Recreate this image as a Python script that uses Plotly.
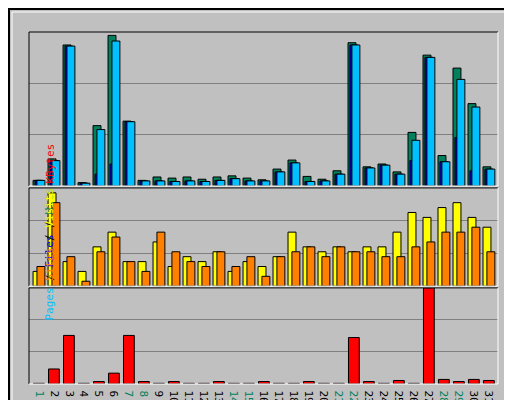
import plotly.graph_objects as go

# === Data ===
days = list(range(1, 32))
weekend = [1, 7, 8, 14, 15, 21, 22, 28, 29]

hits = [10, 48, 250, 6, 107, 267, 115, 10, 16, 14, 16, 12, 16, 18, 14, 11,
        30, 46, 17, 12, 27, 254, 34, 39, 25, 95, 232, 54, 209, 146, 34]
files = [10, 45, 248, 5, 100, 257, 114, 9, 9, 8, 9, 8, 10, 13, 9, 9,
         25, 41, 8, 9, 21, 250, 32, 37, 21, 81, 228, 43, 189, 140, 30]
pages = [10, 45, 248, 5, 21, 39, 114, 9, 9, 8, 9, 8, 10, 13, 9, 9,
         25, 41, 8, 9, 21, 250, 32, 37, 21, 45, 228, 43, 86, 27, 30]
visits = [3, 19, 5, 3, 8, 11, 5, 5, 9, 4, 6, 5, 7, 3, 5, 4,
          6, 11, 8, 7, 8, 7, 8, 8, 11, 15, 14, 16, 17, 14, 12]
sites = [4, 17, 6, 1, 7, 10, 5, 3, 11, 7, 5, 4, 7, 4, 6, 2,
         6, 7, 8, 6, 8, 7, 7, 6, 6, 8, 9, 11, 11, 12, 7]
kbytes = [100, 2273, 7348, 100, 370, 1640, 7348, 370, 100, 370, 100, 100, 370, 100, 100, 370,
          100, 100, 370, 100, 100, 7030, 370, 100, 530, 100, 14537, 690, 370, 690, 530]

BG = "#C0C0C0"
GRID = "#808080"
FONT = "DejaVu Sans Mono"

fig = go.Figure()


def bars(y, color, offset, width, ax):
    fig.add_trace(go.Bar(x=days, y=y, offset=offset, width=width, marker_color=color,
                         marker_line=dict(color="black", width=1),
                         xaxis="x" + ax, yaxis="y" + ax, showlegend=False, hoverinfo="skip"))


bars(hits, "#00805C", -0.53, 0.53, "")
bars(pages, "#0000FF", -0.4, 0.53, "")
bars(files, "#00C0FF", -0.27, 0.53, "")
bars(visits, "#FFFF00", -0.53, 0.53, "2")
bars(sites, "#FF8000", -0.27, 0.53, "2")
bars(kbytes, "#FF0000", -0.5, 0.72, "3")

xr = [0.2, 31.47]
ticktext = ["<span style='color:#00805C'>%d</span>" % d if d in weekend else str(d) for d in days]

common_x = dict(range=xr, domain=[0, 1], showgrid=False, zeroline=False, automargin=False)
common_y = dict(showgrid=True, gridcolor=GRID, gridwidth=1, zeroline=False, showticklabels=False,
                ticks="", automargin=False)

doms = [[0.5625, 1.0], [0.278, 0.557], [0.0, 0.273]]

fig.update_layout(
    width=512, height=400, autosize=False,
    margin=dict(l=21, r=22, t=24, b=24),
    paper_bgcolor=BG, plot_bgcolor=BG,
    barmode="overlay",
    font=dict(family=FONT, size=11, color="black"),
    xaxis=dict(**common_x, anchor="y", showticklabels=False),
    xaxis2=dict(**common_x, anchor="y2", showticklabels=False),
    xaxis3=dict(**common_x, anchor="y3", tickvals=days, ticktext=ticktext, ticks="",
                tickfont=dict(size=11, family=FONT)),
    yaxis=dict(**common_y, domain=doms[0], range=[0, 273], dtick=91, anchor="x"),
    yaxis2=dict(**common_y, domain=doms[1], range=[0, 20], dtick=20 / 3, anchor="x2"),
    yaxis3=dict(**common_y, domain=doms[2], range=[0, 14537], dtick=14537 / 3, anchor="x3"),
)

# panel bevels: black top/left, white bottom/right
shapes = []
for y0, y1 in doms:
    shapes += [
        dict(type="line", xref="paper", yref="paper", x0=0, x1=1, y0=y1, y1=y1,
             line=dict(color="black", width=1)),
        dict(type="line", xref="paper", yref="paper", x0=0, x1=0, y0=y0, y1=y1,
             line=dict(color="black", width=1)),
        dict(type="line", xref="paper", yref="paper", x0=0, x1=1, y0=y0, y1=y0,
             line=dict(color="white", width=1)),
        dict(type="line", xref="paper", yref="paper", x0=1, x1=1, y0=y0, y1=y1,
             line=dict(color="white", width=1)),
    ]
# outer frame (pixel -> paper conversion for the 469x352 plot area)
px = lambda v: (v - 21) / 469
py = lambda v: (376 - v) / 352
shapes += [
    dict(type="rect", xref="paper", yref="paper", x0=px(1), x1=px(511), y0=py(399), y1=py(1),
         line=dict(color="black", width=2)),
    dict(type="rect", xref="paper", yref="paper", x0=px(4), x1=px(508), y0=py(396), y1=py(4),
         line=dict(color="white", width=1)),
]
fig.update_layout(shapes=shapes)

ann = [
    dict(text="<b>Daily usage for July 2007</b>", x=px(18), y=py(7), xanchor="left", yanchor="top",
         font=dict(color="#0000FF", size=12, family=FONT), showarrow=False),
    dict(text="273", x=px(20), y=py(26), xanchor="right", yanchor="top", textangle=-90, showarrow=False),
    dict(text="20", x=px(20), y=py(182), xanchor="right", yanchor="top", textangle=-90, showarrow=False),
    dict(text="14537", x=px(20), y=py(282), xanchor="right", yanchor="top", textangle=-90, showarrow=False),
    dict(text="<span style='color:#00C0FF'>Pages</span> / <span style='color:#0000FF'>Files</span> / "
              "<span style='color:#00805C'>Hits</span>",
         x=px(492), y=py(26), xanchor="left", yanchor="top", textangle=-90, showarrow=False),
    dict(text="<span style='color:#FF8000'>Sites</span> / <span style='color:#FFFF00'>Visits</span>",
         x=px(492), y=py(182), xanchor="left", yanchor="top", textangle=-90, showarrow=False),
    dict(text="<span style='color:#FF0000'>KBytes</span>",
         x=px(492), y=py(376), xanchor="left", yanchor="bottom", textangle=-90, showarrow=False),
]
fig.update_layout(annotations=ann)

fig.write_html("out.html")
